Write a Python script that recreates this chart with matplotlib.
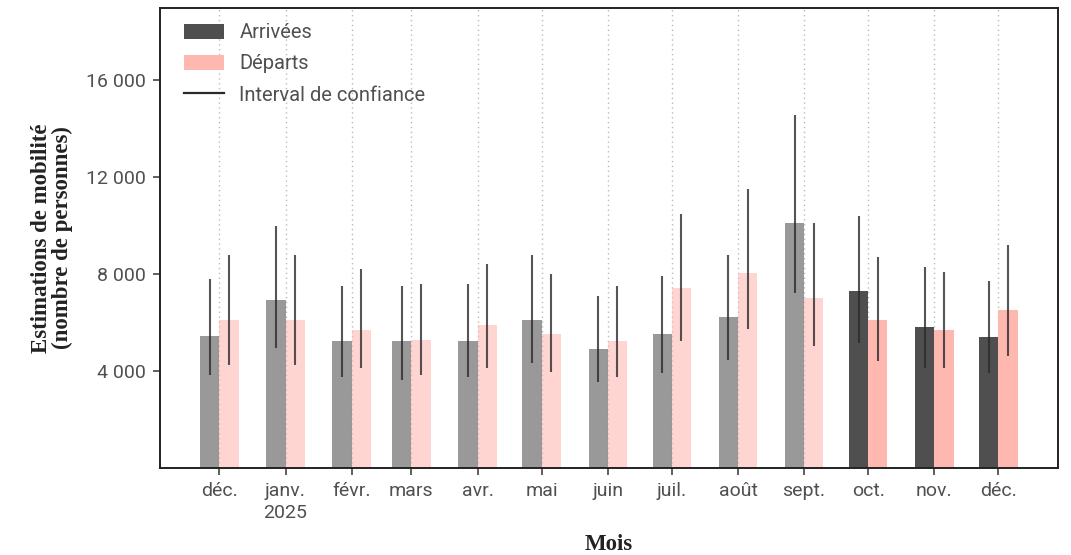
import datetime as dt
import matplotlib.pyplot as plt
import matplotlib.dates as mdates
from matplotlib.patches import Patch
from matplotlib.lines import Line2D
from matplotlib.ticker import FuncFormatter

# données
mois = [dt.date(2024, 12, 1)] + [dt.date(2025, m, 1) for m in range(1, 13)]
etiquettes = ["déc.", "janv.\n2025", "févr.", "mars", "avr.", "mai", "juin",
              "juil.", "août", "sept.", "oct.", "nov.", "déc."]

arrivees = [5440, 6930, 5220, 5220, 5220, 6120, 4920, 5520, 6220, 10100, 7300, 5810, 5410]
arr_bas = [3830, 4930, 3740, 3630, 3740, 4330, 3530, 3930, 4440, 7230, 5140, 4120, 3930]
arr_haut = [7810, 10000, 7500, 7500, 7600, 8800, 7090, 7920, 8800, 14580, 10410, 8300, 7710]

departs = [6120, 6120, 5710, 5300, 5920, 5520, 5220, 7420, 8030, 7000, 6120, 5710, 6510]
dep_bas = [4250, 4250, 4130, 3830, 4130, 3940, 3740, 5230, 5720, 5030, 4420, 4120, 4630]
dep_haut = [8800, 8800, 8200, 7600, 8410, 8000, 7500, 10490, 11510, 10100, 8710, 8100, 9210]

# les 3 derniers mois sont en couleur pleine, les autres estompés
n_recent = 3

col_arr = "#4f4f4f"
col_dep = "#ffb8b0"
col_err = "#2a2a2a"
col_txt = "#505050"

plt.rcParams['font.family'] = ['Roboto', 'DejaVu Sans']

fig = plt.figure(figsize=(10.71, 5.55), dpi=100)
ax = fig.add_axes([0.149, 0.157, 0.839, 0.829])

largeur = 9  # jours
x = mdates.date2num(mois)
for i in range(len(mois)):
    a = 1.0 if i >= len(mois) - n_recent else 0.58
    ax.bar(x[i] - largeur, arrivees[i], width=largeur, align='edge',
           color=col_arr, alpha=a, zorder=2, linewidth=0)
    ax.bar(x[i], departs[i], width=largeur, align='edge', color=col_dep,
           alpha=a, zorder=2, linewidth=0)
    ax.vlines(x[i] - largeur / 2, arr_bas[i], arr_haut[i], color=col_err,
              linewidth=1.5, alpha=0.8, zorder=3)
    ax.vlines(x[i] + largeur / 2, dep_bas[i], dep_haut[i], color=col_err,
              linewidth=1.5, alpha=0.8, zorder=3)

ax.set_xlim(x[0] - 28, x[-1] + 28)
ax.set_ylim(0, 19000)
ax.set_xticks(x)
ax.set_xticklabels(etiquettes, linespacing=1.3)
ax.set_yticks([4000, 8000, 12000, 16000])
ax.yaxis.set_major_formatter(FuncFormatter(lambda v, p: f"{int(v):,}".replace(",", " ")))

ax.grid(axis='x', linestyle=(0, (1, 2.5)), color='#bbbbbb', linewidth=1.0, zorder=1)
ax.set_axisbelow(True)

for s in ax.spines.values():
    s.set_linewidth(1.4)
    s.set_color('#222222')
ax.tick_params(axis='both', direction='out', length=5, width=1.2, color='#444444',
               labelsize=14, labelcolor=col_txt, pad=5)

police_titre = dict(family='Liberation Serif', fontweight='bold', fontsize=16.5, color='#222222')
ax.set_xlabel("Mois", labelpad=9, **police_titre)
ax.set_ylabel("Estimations de mobilité\n(nombre de personnes)", labelpad=9,
              linespacing=1.0, **police_titre)

poignees = [Patch(color=col_arr, linewidth=0), Patch(color=col_dep, linewidth=0),
            Line2D([], [], color=col_err, linewidth=1.6)]
leg = ax.legend(poignees, ["Arrivées", "Départs", "Interval de confiance"],
                loc='upper left', bbox_to_anchor=(0.016, 0.988), frameon=False,
                fontsize=14.5, handlelength=2.0, handleheight=0.75,
                labelspacing=0.6, borderaxespad=0, borderpad=0.5,
                handletextpad=0.75)
for t in leg.get_texts():
    t.set_color(col_txt)

fig.savefig("out.png", dpi=100)
